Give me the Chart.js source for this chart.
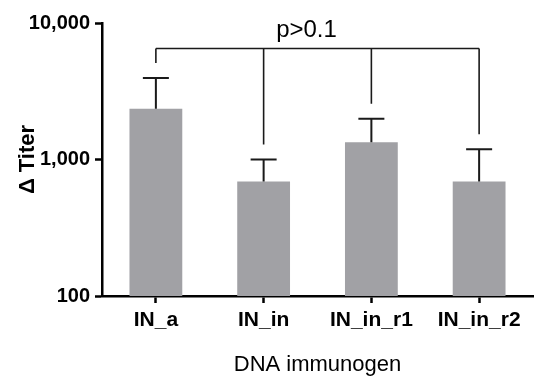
<!DOCTYPE html>
<html>
<head>
<meta charset="utf-8">
<script src="https://cdn.jsdelivr.net/npm/chart.js@4/dist/chart.umd.min.js"></script>
<style>
  html, body { margin: 0; padding: 0; background: #fff; }
  #wrap { width: 550px; height: 390px; position: relative; }
</style>
</head>
<body>
<div id="wrap"><canvas id="c" width="550" height="390"></canvas></div>
<script>
// ---- data ----
const categories = ['IN_a', 'IN_in', 'IN_in_r1', 'IN_in_r2'];
const meanTiter = [2350, 690, 1340, 690];
const upperError = [3950, 1000, 1990, 1190];
const yTickValues = [100, 1000, 10000];
const bracketLevel = 6500;
const bracketLabel = 'p>0.1';

const FONT = '"Liberation Sans", Arial, Helvetica, sans-serif';

const errorBracketPlugin = {
  id: 'errorBracket',
  afterDatasetsDraw(chart) {
    const ctx = chart.ctx;
    const y = chart.scales.y;
    const meta = chart.getDatasetMeta(0);
    ctx.save();
    ctx.strokeStyle = '#1a1a1a';
    ctx.lineWidth = 2;
    const capHalf = 13;
    const tops = [];
    meta.data.forEach((bar, i) => {
      const x = bar.x;
      const yTop = y.getPixelForValue(upperError[i]);
      ctx.beginPath();
      ctx.moveTo(x, bar.y);
      ctx.lineTo(x, yTop);
      ctx.moveTo(x - capHalf, yTop);
      ctx.lineTo(x + capHalf, yTop);
      ctx.stroke();
      tops.push({ x, yTop });
    });
    // bracket
    const by = y.getPixelForValue(bracketLevel);
    const gap = 15;
    ctx.lineWidth = 1.6;
    ctx.beginPath();
    ctx.moveTo(tops[0].x, by);
    ctx.lineTo(tops[tops.length - 1].x, by);
    tops.forEach(t => {
      ctx.moveTo(t.x, by);
      ctx.lineTo(t.x, t.yTop - gap);
    });
    ctx.stroke();
    // label
    const cx = (tops[0].x + tops[tops.length - 1].x) / 2 - 11;
    ctx.fillStyle = '#000';
    ctx.font = '24px ' + FONT;
    ctx.textAlign = 'center';
    ctx.textBaseline = 'alphabetic';
    ctx.fillText(bracketLabel, cx, by - 12);
    ctx.restore();
  }
};

new Chart(document.getElementById('c'), {
  type: 'bar',
  data: {
    labels: categories,
    datasets: [{
      data: meanTiter,
      backgroundColor: '#a1a1a5',
      borderWidth: 0,
      barPercentage: 0.49,
      categoryPercentage: 1.0
    }]
  },
  options: {
    responsive: false,
    animation: false,
    events: [],
    layout: { padding: { top: 23, right: 17, left: 0, bottom: 0 } },
    plugins: { legend: { display: false }, tooltip: { enabled: false } },
    scales: {
      x: {
        grid: {
          display: true,
          drawOnChartArea: false,
          drawTicks: true,
          offset: false,
          tickLength: 7,
          tickWidth: 2.5,
          tickColor: '#000'
        },
        border: { display: true, color: '#000', width: 2.5 },
        ticks: {
          color: '#000',
          padding: 5,
          maxRotation: 0,
          font: { family: FONT, size: 21, weight: 'bold' }
        },
        title: {
          display: true,
          text: 'DNA immunogen',
          color: '#000',
          font: { family: FONT, size: 22, weight: 'normal', lineHeight: 1.2 },
          padding: { top: 0, bottom: 12 }
        },
        afterFit(scale) { scale.height = 94; }
      },
      y: {
        type: 'logarithmic',
        min: 100,
        max: 10000,
        grid: {
          display: true,
          drawOnChartArea: false,
          drawTicks: true,
          tickLength: 7,
          tickWidth: 2.5,
          tickColor: '#000'
        },
        border: { display: true, color: '#000', width: 2.5 },
        afterBuildTicks(scale) {
          scale.ticks = yTickValues.map(v => ({ value: v, major: true }));
        },
        ticks: {
          color: '#000',
          padding: 5,
          font: { family: FONT, size: 20, weight: 'bold' },
          callback: (v) => Number(v).toLocaleString('en-US')
        },
        title: {
          display: true,
          text: 'Δ Titer',
          color: '#000',
          font: { family: FONT, size: 22, weight: 'bold', lineHeight: 1.2 },
          padding: { top: 15, bottom: 0 }
        },
        afterFit(scale) { scale.width = 102; }
      }
    }
  },
  plugins: [errorBracketPlugin]
});
</script>
</body>
</html>
